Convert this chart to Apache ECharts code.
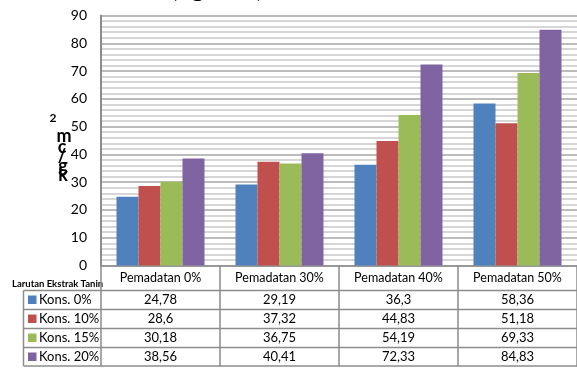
<!DOCTYPE html>
<html>
<head>
<meta charset="utf-8">
<script src="https://cdn.jsdelivr.net/npm/echarts@6/dist/echarts.min.js"></script>
<style>
  html, body { margin: 0; padding: 0; background: #fff; }
  #chart { width: 577px; height: 368px; }
</style>
</head>
<body>
<div id="chart"></div>
<script>
// Compressive strength by compaction level and tannin extract concentration
const categories = ['Pemadatan 0%', 'Pemadatan 30%', 'Pemadatan 40%', 'Pemadatan 50%'];
const seriesNames = ['Kons. 0%', 'Kons. 10%', 'Kons. 15%', 'Kons. 20%'];
const kons0 = [24.78, 29.19, 36.3, 58.36];
const kons10 = [28.6, 37.32, 44.83, 51.18];
const kons15 = [30.18, 36.75, 54.19, 69.33];
const kons20 = [38.56, 40.41, 72.33, 84.83];
const seriesValues = [kons0, kons10, kons15, kons20];
const colors = ['#4F81BD', '#C0504D', '#9BBB59', '#8064A2'];
const yMin = 0, yMax = 90, yStep = 10;
const tableTitle = 'Larutan Ekstrak Tanin';
const unitText = 'kg/cm²';
const titleText = '(kg/cm²)';

const FONT = 'Lato, "DejaVu Sans", sans-serif';
const lineGray = '#8c8c8c';

const chart = echarts.init(document.getElementById('chart'), null, { renderer: 'canvas' });

const option = {
  animation: false,
  backgroundColor: '#ffffff',
  grid: { left: 101, right: -5, top: 15.5, bottom: 102.5, containLabel: false },
  xAxis: {
    type: 'category',
    data: categories,
    boundaryGap: true,
    axisLine: { show: true, lineStyle: { color: lineGray, width: 1.5 } },
    axisTick: { show: true, interval: 0, length: 101, lineStyle: { color: lineGray, width: 1.5 } },
    axisLabel: { interval: 0, margin: 6, color: '#000', fontSize: 12.5, fontFamily: FONT }
  },
  yAxis: {
    type: 'value',
    min: yMin, max: yMax, interval: yStep,
    axisLine: { show: true, lineStyle: { color: lineGray, width: 2 } },
    axisTick: { show: false },
    axisLabel: { color: '#000', fontSize: 14, fontFamily: FONT, margin: 14 },
    splitLine: { show: true, lineStyle: { color: '#a6a6a6', width: 1.5 } },
    minorTick: { show: false, splitNumber: 5 },
    minorSplitLine: { show: true, lineStyle: { color: '#c9c9c9', width: 1.5 } }
  },
  series: seriesValues.map((vals, i) => ({
    name: seriesNames[i],
    type: 'bar',
    data: vals,
    barWidth: 22,
    barGap: '0%',
    itemStyle: { color: colors[i] }
  }))
};
chart.setOption(option);

// Data table beneath the plot, laid out on the category axis positions
const fmt = v => String(v).replace('.', ',');
const rowTop = 290.5, rowH = 19, leftCol = 23.5;
const g = [];
const tableBottom = rowTop + rowH * seriesNames.length - 0.5;

// horizontal row borders
for (let r = 0; r <= seriesNames.length; r++) {
  const y = rowTop + r * rowH - (r === seriesNames.length ? 0.5 : 0);
  g.push({ type: 'line', shape: { x1: leftCol, y1: y, x2: 577, y2: y },
    style: { stroke: lineGray, lineWidth: 1.5 }, silent: true });
}
// left border of the legend column
g.push({ type: 'line', shape: { x1: leftCol, y1: rowTop, x2: leftCol, y2: tableBottom },
  style: { stroke: lineGray, lineWidth: 1.5 }, silent: true });

seriesNames.forEach((name, r) => {
  const cy = rowTop + r * rowH + rowH / 2;
  g.push({ type: 'rect', shape: { x: 28, y: cy - 4.5, width: 8.5, height: 8.5 },
    style: { fill: colors[r] }, silent: true });
  g.push({ type: 'text', x: 39, y: cy, silent: true,
    style: { text: name, fill: '#000', font: '13px ' + FONT, align: 'left', verticalAlign: 'middle' } });
  seriesValues[r].forEach((v, c) => {
    const x = chart.convertToPixel({ xAxisIndex: 0 }, categories[c]);
    g.push({ type: 'text', x: x, y: cy, silent: true,
      style: { text: fmt(v), fill: '#000', font: '13px ' + FONT, align: 'center', verticalAlign: 'middle' } });
  });
});

g.push({ type: 'text', x: 12, y: 284, silent: true,
  style: { text: tableTitle, fill: '#000', font: 'bold 9.5px ' + FONT, align: 'left', verticalAlign: 'middle' } });

// vertical unit label, characters stacked from bottom to top
const unitChars = unitText.split('');
const unitPos = [[63, 175], [63, 166], [62, 156], [62, 147], [64, 136], [53, 118]];
unitChars.forEach((ch, i) => {
  const small = ch === '²';
  g.push({ type: 'text', x: unitPos[i][0], y: unitPos[i][1], silent: true,
    style: { text: small ? '2' : ch, fill: '#000', font: 'bold ' + (small ? 12 : 18) + 'px ' + FONT,
      align: 'center', verticalAlign: 'middle' } });
});

// chart title, mostly above the top edge
g.push({ type: 'text', x: 171, y: 1.5, silent: true,
  style: { text: titleText, fill: '#000', font: 'bold 25px ' + FONT, align: 'left', verticalAlign: 'bottom' } });

chart.setOption({ graphic: g });
</script>
</body>
</html>
